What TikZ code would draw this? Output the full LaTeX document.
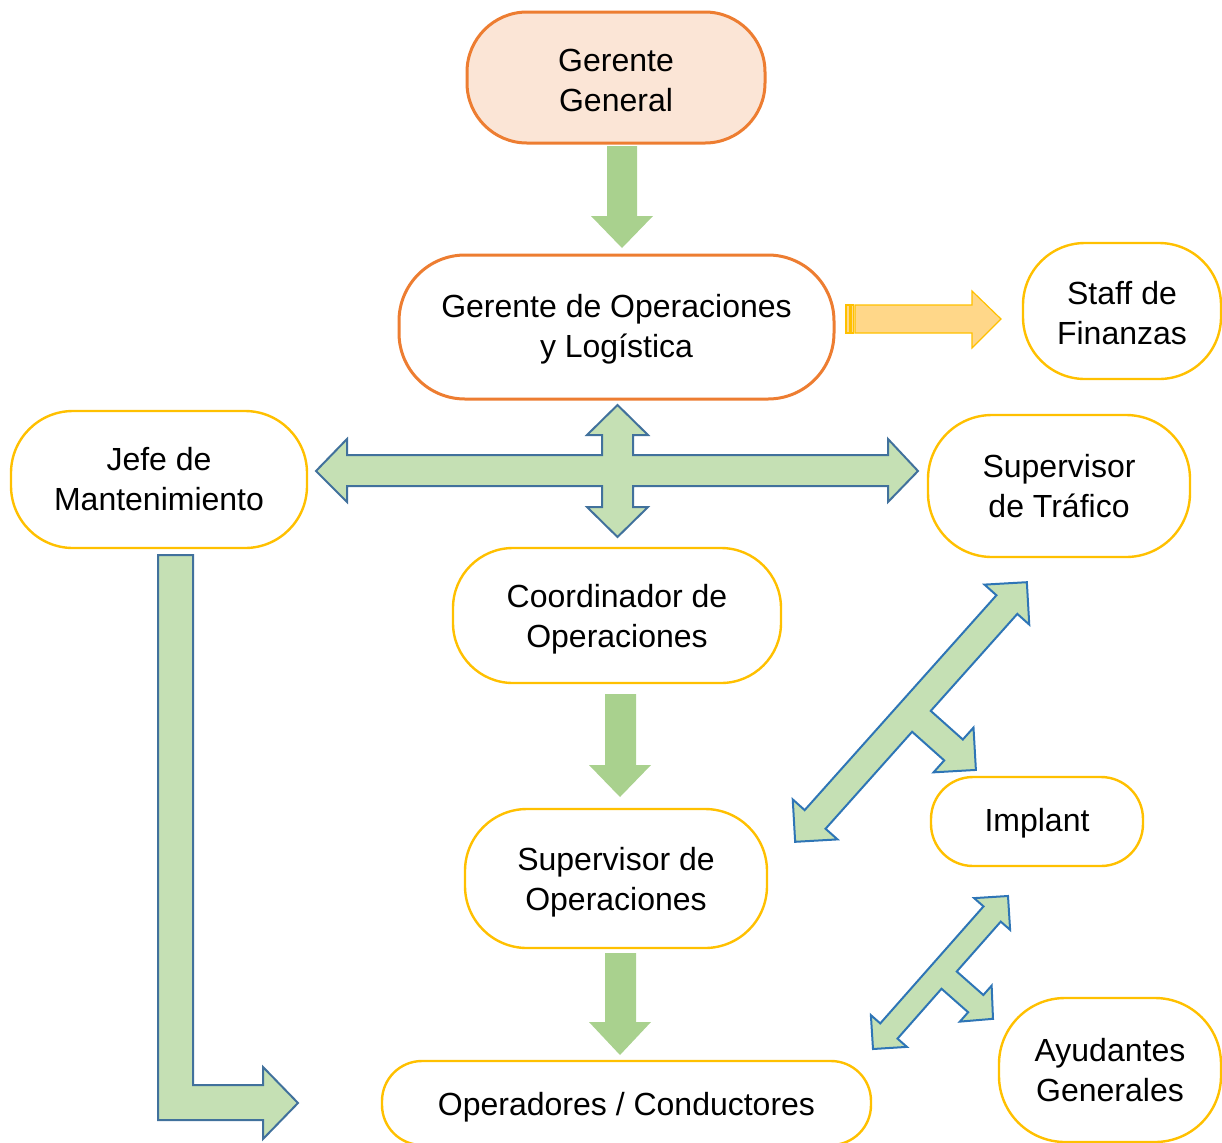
\documentclass[tikz,border=0pt]{standalone}
\usepackage{fontspec}
\setmainfont{Liberation Sans}
\definecolor{orgline}{RGB}{237,125,49}
\definecolor{peach}{RGB}{251,229,214}
\definecolor{yelline}{RGB}{255,192,0}
\definecolor{yelfill}{RGB}{255,215,137}
\definecolor{lgreen}{RGB}{197,224,180}
\definecolor{sgreen}{RGB}{169,209,142}
\definecolor{bline}{RGB}{65,113,156}
\definecolor{dline}{RGB}{46,117,182}
\newcommand\tarrowpath[6]{%
 (-#1,0) -- ({-#1+#2},{-#3}) -- ({-#1+#2},{-#4}) -- ({#1-#2},{-#4}) -- ({#1-#2},{-#3}) -- (#1,0)
 -- ({#1-#2},{#3}) -- ({#1-#2},{#4}) -- ({#4},{#4}) -- ({#4},{#5-#6}) -- ({#3},{#5-#6}) -- (0,#5)
 -- ({-#3},{#5-#6}) -- ({-#4},{#5-#6}) -- ({-#4},{#4}) -- ({-#1+#2},{#4}) -- ({-#1+#2},{#3}) -- cycle}
\newcommand\tpad{\rule{0pt}{15.8pt}}
\newcommand\tpads{\rule{0pt}{13.8pt}}
\begin{document}
\begin{tikzpicture}[x=0.5pt,y=-0.5pt,
  box/.style={draw=yelline,line width=1.2pt,fill=white,minimum width=#1,align=center,inner sep=0pt,font=\fontsize{16}{20}\selectfont},
  obox/.style={box=#1,draw=orgline,line width=1.5pt},
  solidarrow/.style={fill=sgreen,draw=none},
  blockarrow/.style={fill=lgreen,draw=bline,line width=1pt,line join=miter},
  diagarrow/.style={fill=lgreen,draw=dline,line width=1pt,line join=miter}]
\useasboundingbox (0,0) rectangle (1222,1142);
% nodes
\node[obox=149pt,fill=peach,minimum height=65.5pt,rounded corners=30pt] (gg) at (616,77.5) {\tpads Gerente\\General};
\node[obox=217.5pt,minimum height=72pt,rounded corners=33pt] (go) at (616.5,327) {\tpads Gerente de Operaciones\\y Logística};
\node[box=99pt,minimum height=68pt,rounded corners=31pt] (sf) at (1122,311) {\tpads Staff de\\Finanzas};
\node[box=148pt,minimum height=68.5pt,rounded corners=31pt] (jm) at (159,479.5) {Jefe de\\Mantenimiento};
\node[box=131pt,minimum height=71pt,rounded corners=32pt] (st) at (1059,486) {Supervisor\\de Tráfico};
\node[box=164pt,minimum height=67.5pt,rounded corners=30pt] (co) at (617,615.5) {\tpad Coordinador de\\Operaciones};
\node[box=106pt,minimum height=44.5pt,rounded corners=21pt] (im) at (1037,821.5) {\tpads Implant};
\node[box=151pt,minimum height=69.5pt,rounded corners=31pt] (so) at (616,878.5) {\tpad Supervisor de\\Operaciones};
\node[box=244.5pt,minimum height=42pt,rounded corners=20pt] (oc) at (626.5,1103) {\tpad Operadores / Conductores};
\node[box=111pt,minimum height=72pt,rounded corners=33pt] (ag) at (1110,1070) {Ayudantes\\Generales};
% solid down arrows
\fill[solidarrow] (607,146) -- (637,146) -- (637,216) -- (653,216) -- (622,248) -- (591,216) -- (607,216) -- cycle;
\fill[solidarrow] (605,694) -- (636,694) -- (636,765) -- (651,765) -- (620,797) -- (589,765) -- (605,765) -- cycle;
\fill[solidarrow] (605,953) -- (636,953) -- (636,1022) -- (651,1022) -- (620,1055) -- (589,1022) -- (605,1022) -- cycle;
% yellow arrow
\filldraw[fill=yelfill,draw=yelline,line width=0.6pt] (855,305) -- (972,305) -- (972,291) -- (1001,319) -- (972,348) -- (972,333) -- (855,333) -- cycle;
\filldraw[fill=yelfill,draw=yelline,line width=0.6pt] (846,305) rectangle (849.5,333);
\filldraw[fill=yelfill,draw=yelline,line width=0.6pt] (851,305) rectangle (853.5,333);
% quad arrow
\filldraw[blockarrow] (316,471) -- (347,439) -- (347,455) -- (602,455) -- (602,435) -- (587,435) -- (617.5,405) -- (648,435) -- (633,435) -- (633,455) -- (888,455) -- (888,439) -- (918,471) -- (888,502) -- (888,486) -- (633,486) -- (633,507) -- (648,507) -- (617.5,537) -- (587,507) -- (602,507) -- (602,486) -- (347,486) -- (347,502) -- cycle;
% bent arrow
\filldraw[blockarrow] (158,555) -- (193,555) -- (193,1085) -- (263,1085) -- (263,1067) -- (298,1103) -- (263,1139) -- (263,1120) -- (158,1120) -- cycle;
% diagonal T arrows
\begin{scope}[shift={(911,712)},x={(0.3329pt,0.3730pt)},y={(0.3730pt,-0.3329pt)}]
\filldraw[diagarrow] \tarrowpath{174}{30}{30}{14}{87}{30};
\end{scope}
\begin{scope}[shift={(940.5,972.5)},x={(0.3309pt,0.375pt)},y={(0.375pt,-0.3309pt)}]
\filldraw[diagarrow] \tarrowpath{102}{24}{24}{11.5}{70}{23};
\end{scope}
\end{tikzpicture}
\end{document}
